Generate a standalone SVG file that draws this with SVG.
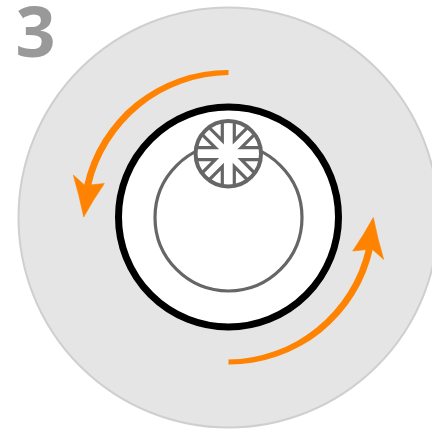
<svg xmlns="http://www.w3.org/2000/svg" width="432" height="430" viewBox="0 0 432 430">
<style>
.arrow{fill:#ff8300}
.sp{stroke:#666;stroke-width:3.200;fill:none}
</style>
<defs>
<g id="arrow"><path class="arrow" d="M228.500 70A147 147 0 0 0 84 186L91 186A143 143 0 0 1 228.500 75Z"/><path class="arrow" d="M73.300 175L85 185.500L104.300 183.500Q93 200 83.700 217Q79.500 196 73.300 175Z" stroke="#ff8300" stroke-width="0.600"/></g>
</defs>
<g id="disc"><circle cx="228.500" cy="217.500" r="210" fill="#e5e5e5" stroke="#cfcfcf" stroke-width="2"/></g>
<g id="ring"><circle cx="228.500" cy="217" r="110" fill="#fff" stroke="#000" stroke-width="7"/></g>
<g id="inner"><circle cx="228.500" cy="217.500" r="73.500" fill="#fff" stroke="#666" stroke-width="3.200"/></g>
<g id="gear" transform="translate(228.300 153.700)">
<circle r="32.700" fill="#fff"/>
<path class="sp" d="M6 -32V-13L19.300 -26.300M32 -6H13L26.300 -19.300M32 6H13L26.300 19.300M6 32V13L19.300 26.300M-6 -32V-13L-19.300 -26.300M-32 -6H-13L-26.300 -19.300M-32 6H-13L-26.300 19.300M-6 32V13L-19.300 26.300"/>
<circle r="32.700" fill="none" stroke="#666" stroke-width="4"/>
</g>
<g id="connectors">
<use href="#arrow"/>
<use href="#arrow" transform="rotate(180 228.500 217.250)"/>
</g>
<text id="label" x="15.500" y="56.500" font-family="Open Sans, sans-serif" font-weight="700" font-size="70" fill="#999">3</text>
</svg>
